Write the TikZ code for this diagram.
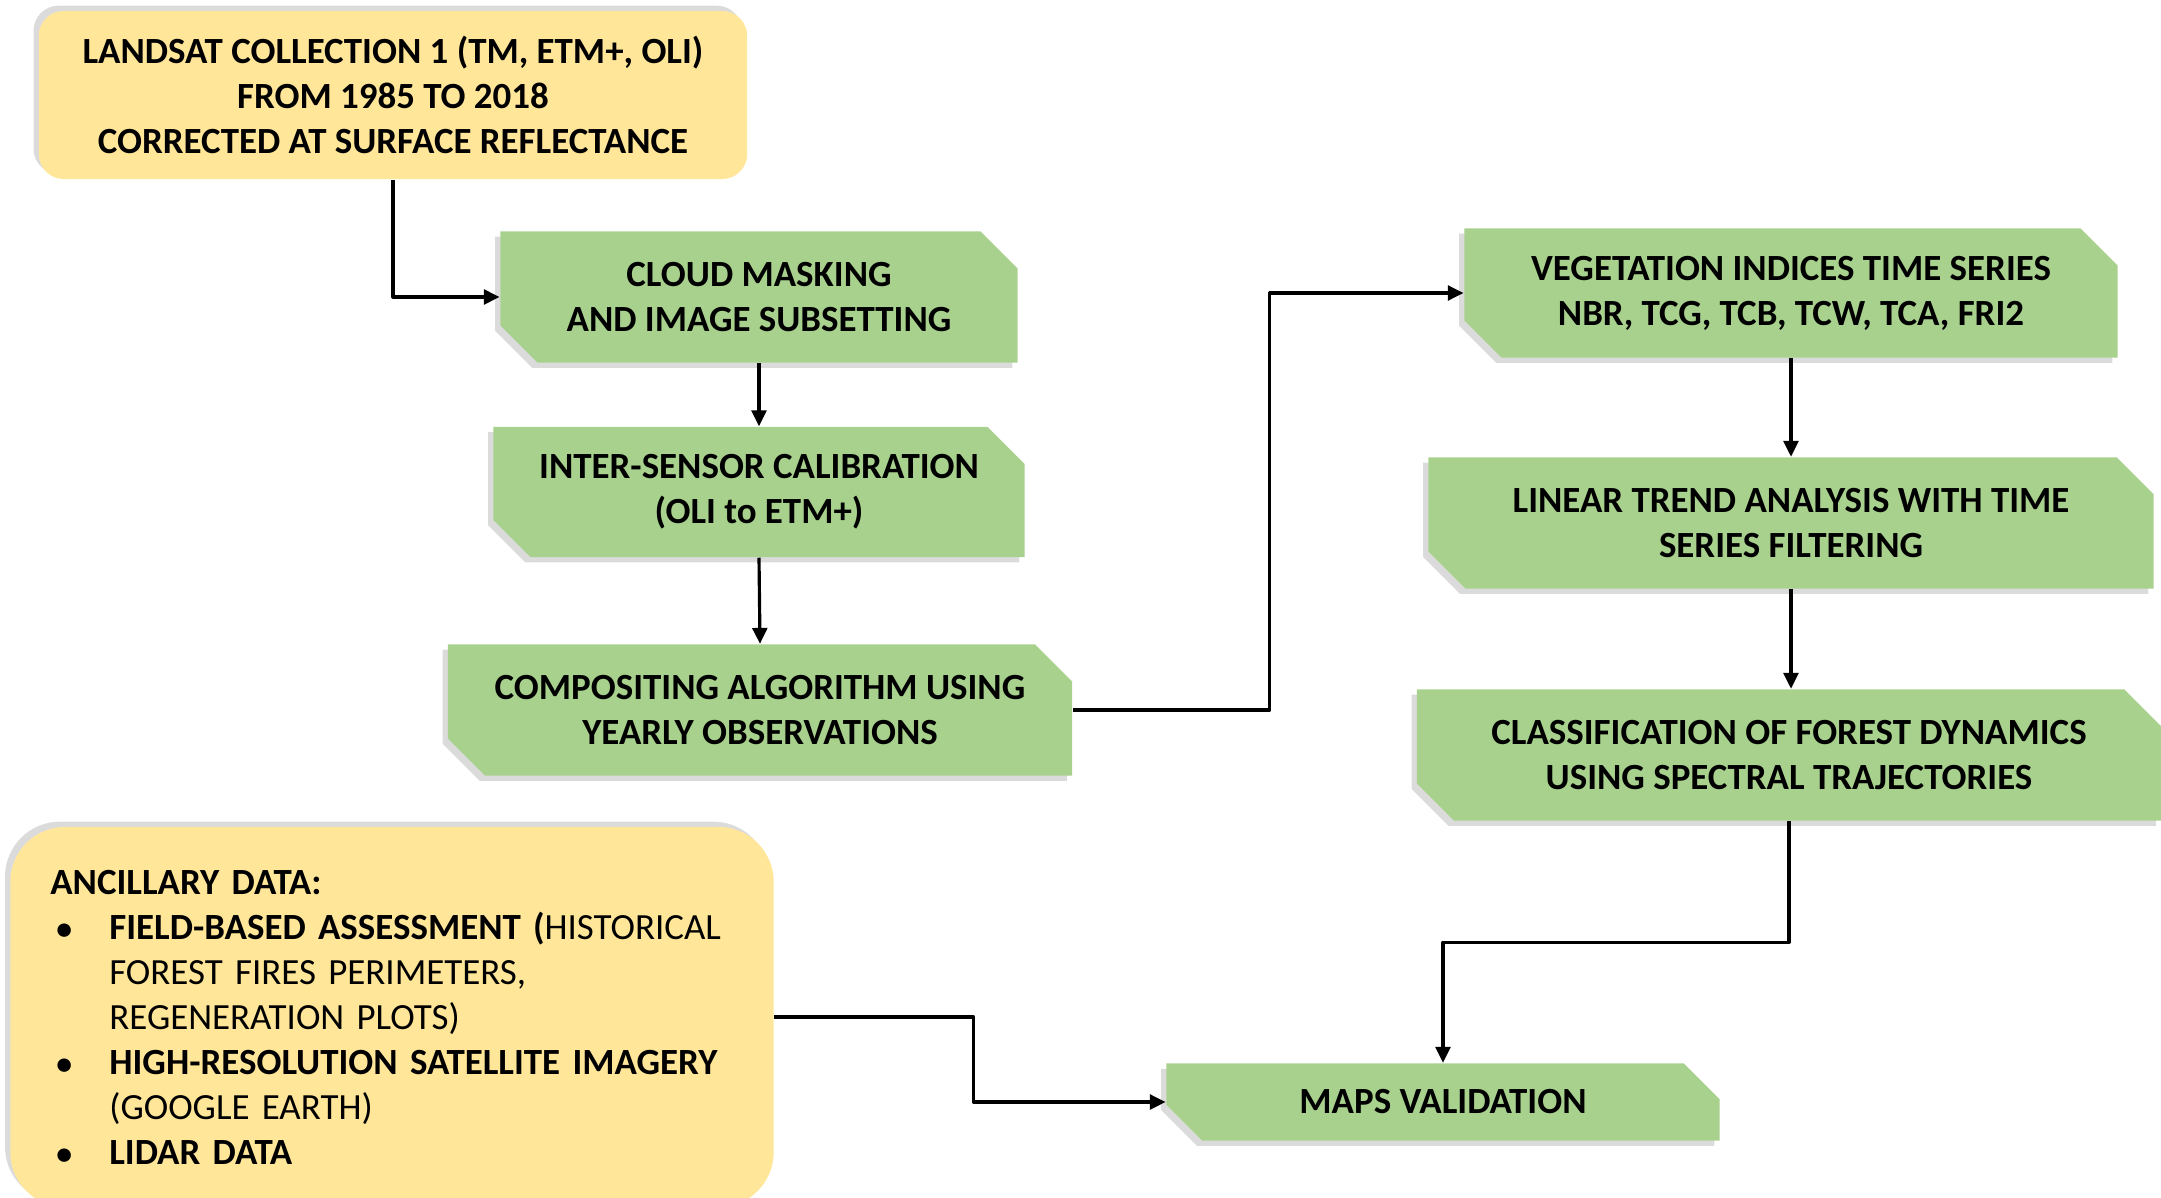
\documentclass[tikz,border=0pt]{standalone}
\usepackage{fontspec}
\setmainfont{Carlito}
\usetikzlibrary{shapes.misc,shadows,arrows.meta}
\definecolor{stepgreen}{HTML}{A9D18E}
\definecolor{datayellow}{HTML}{FFE699}

\begin{document}
\begin{tikzpicture}[>={Triangle[length=4.5pt,width=4.2pt]},line join=round,font=\fontsize{10.5}{12.8}\selectfont\bfseries,x=0.01cm,y=-0.01cm,
	stepbox/.style={chamfered rectangle,chamfered rectangle corners={north east,south west},
		chamfered rectangle xsep=0.17cm,chamfered rectangle ysep=0.2cm,fill=stepgreen,align=center,inner sep=1pt,
		drop shadow={shadow xshift=-1.5pt,shadow yshift=-1.5pt,fill=black!40,opacity=0.35}},
	databox/.style={rounded corners=0.25cm,fill=datayellow,align=center,inner sep=2pt,
		drop shadow={shadow xshift=-1.5pt,shadow yshift=1.5pt,fill=black!40,opacity=0.35}},
	link/.style={->,line width=0.9pt}]
	\useasboundingbox (0,0) rectangle (2161,1197);
	
	% left column
	\node[databox,minimum width=7.08cm,minimum height=1.68cm] (landsat) at (393,95)
		{LANDSAT COLLECTION 1 (TM, ETM+, OLI)\\FROM 1985 TO 2018\\CORRECTED AT SURFACE REFLECTANCE};
	\node[stepbox,minimum width=5.17cm,minimum height=1.31cm] (cloud) at (759,297)
		{CLOUD MASKING\\AND IMAGE SUBSETTING};
	\node[stepbox,minimum width=5.31cm,minimum height=1.30cm] (calib) at (759,492)
		{INTER-SENSOR CALIBRATION\\(OLI to ETM+)};
	\node[stepbox,minimum width=6.24cm,minimum height=1.31cm] (compo) at (760,710)
		{COMPOSITING ALGORITHM USING\\YEARLY OBSERVATIONS};
	
	% right column
	\node[stepbox,minimum width=6.53cm,minimum height=1.29cm] (vindex) at (1791,293)
		{VEGETATION INDICES TIME SERIES\\NBR, TCG, TCB, TCW, TCA, FRI2};
	\node[stepbox,minimum width=7.25cm,minimum height=1.31cm] (trend) at (1791,523)
		{LINEAR TREND ANALYSIS WITH TIME\\SERIES FILTERING};
	\node[stepbox,minimum width=7.44cm,minimum height=1.31cm] (classif) at (1789,755)
		{CLASSIFICATION OF FOREST DYNAMICS\\USING SPECTRAL TRAJECTORIES};
	\node[stepbox,minimum width=5.53cm,minimum height=0.77cm] (valid) at (1443,1102) {MAPS VALIDATION};
	
	% ancillary data
	\node[databox,rounded corners=0.55cm,align=left,text width=6.83cm,inner xsep=0.4cm,minimum height=3.8cm] (ancil) at (392,1017)
		{ANCILLARY DATA:\\
		\makebox[0.59cm][l]{\hspace{0.06cm}\small\textbullet}FIELD-BASED ASSESSMENT ({\mdseries HISTORICAL}\\
		\hspace*{0.59cm}{\mdseries FOREST FIRES PERIMETERS,}\\
		\hspace*{0.59cm}{\mdseries REGENERATION PLOTS)}\\
		\makebox[0.59cm][l]{\hspace{0.06cm}\small\textbullet}HIGH-RESOLUTION SATELLITE IMAGERY\\
		\hspace*{0.59cm}{\mdseries (GOOGLE EARTH)}\\
		\makebox[0.59cm][l]{\hspace{0.06cm}\small\textbullet}LIDAR DATA};
	
	\draw[link] (landsat.south) |- (cloud.west);
	\draw[link] (cloud.south) -- (calib.north);
	\draw[link] (calib.south) -- (compo.north);
	\draw[link] (compo.east) -- ++(197,0) |- (vindex.west);
	\draw[link] (vindex.south) -- (trend.north);
	\draw[link] (trend.south) -- (trend.south |- classif.north);
	\draw[link] (classif.south) -- ++(0,121) -| (valid.north);
	\draw[link] (ancil.east) -- ++(199,0) |- (valid.west);
\end{tikzpicture}
\end{document}
